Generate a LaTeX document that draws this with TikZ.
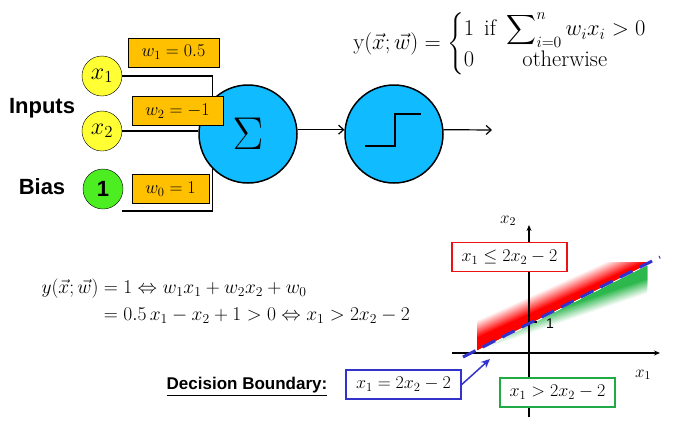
\RequirePackage{fix-cm}
\documentclass[tikz,border=0pt]{standalone}
\usepackage{amsmath}
\usepackage{fontspec}
\newfontfamily\arialfont{Liberation Sans}
\usetikzlibrary{arrows.meta}
\definecolor{inyellow}{HTML}{FFFF33}
\definecolor{biasgreen}{HTML}{4CEE22}
\definecolor{unitblue}{HTML}{11BBFF}
\definecolor{wtorange}{HTML}{FFC000}
\definecolor{lineblue}{HTML}{3333CC}
\definecolor{boxred}{HTML}{EE1111}
\definecolor{boxgreen}{HTML}{22AA44}
\definecolor{fadegreen}{HTML}{2DB84D}
\begin{document}
\begin{tikzpicture}[x=1pt,y=1pt,
  inputnode/.style={draw, circle, fill=inyellow, minimum size=40pt, inner sep=0pt, font=\fontsize{24}{28}\selectfont},
  weight/.style={draw, fill=wtorange, inner sep=0pt, minimum height=29pt, font=\fontsize{18}{21}\selectfont},
  unit/.style={draw, line width=1.5pt, circle, fill=unitblue, minimum size=98pt, inner sep=0pt},
  sidetext/.style={font=\arialfont\bfseries\fontsize{22}{26}\selectfont},
  region/.style={draw, line width=1.5pt, fill=white, inner sep=0pt, minimum width=115pt, minimum height=29pt, font=\fontsize{18}{21}\selectfont},
  wire/.style={draw, line width=1.2pt}]
\useasboundingbox (0,0) rectangle (674,-424);

% perceptron
\node[inputnode] (x1) at (102,-76) {$x_1$};
\node[inputnode] (x2) at (102,-131) {$x_2$};
\node[inputnode, fill=biasgreen, font=\arialfont\bfseries\fontsize{22}{26}\selectfont] (b) at (103,-189) {1};
\node[sidetext] (inputs) at (42,-108) {Inputs};
\node[sidetext] (bias) at (42,-187) {Bias};
\node[unit] (sum) at (248,-134) {\fontsize{46}{50}\selectfont$\Sigma$};
\node[unit] (step) at (394,-134) {};
\coordinate (bstart) at (122,-211);
\coordinate (out) at (492,-130);

\path[wire] (x1.east) -| (sum.north west);
\path[wire] (x2.east) -- (x2.east -| sum.west);
\path[wire] (bstart) -| (sum.south west);
\path[wire,-{Straight Barb[length=5pt,width=9pt]}] (sum.5) -- (step.175);
\path[wire,-{Straight Barb[length=5pt,width=9pt]}] (step.5) -- (out);
\draw[line width=2.5pt] ([shift={(-29,-12)}]step.center) -- ++(30,0) -- ++(0,32) -- ++(26,0);

\node[weight, minimum width=91pt] (w1) at (173.5,-52.5) {$w_1 = 0.5$};
\node[weight, minimum width=91pt] (w2) at (177.5,-111) {$w_2 = -1$};
\node[weight, minimum width=77pt] (w0) at (170.5,-189) {$w_0 = 1$};

\node[font=\fontsize{22.5}{27}\selectfont] (act) at (500,-44)
  {$\mathrm{y}(\vec{x};\vec{w}) = \left\{\begin{array}{@{}lc@{}}1 & \text{if } \displaystyle\sum\nolimits_{i=0}^{n} w_i x_i > 0\\[4pt] 0 & \text{otherwise}\end{array}\right.$};

% decision boundary
\node[anchor=west, font=\fontsize{19.5}{24}\selectfont] (eq) at (38,-302)
  {$\begin{aligned} y(\vec{x};\vec{w}) &= 1 \Leftrightarrow w_1x_1 + w_2x_2 + w_0\\
  &= 0.5\,x_1 - x_2 + 1 > 0 \Leftrightarrow x_1 > 2x_2 - 2\end{aligned}$};
\node[font=\arialfont\bfseries\fontsize{17}{20}\selectfont] (db) at (247,-387) {\underline{Decision Boundary:}};
\node[region, draw=lineblue] (bound) at (403.5,-384.5) {$x_1 = 2x_2 - 2$};

\begin{scope}
\clip (477,-350) -- (477,-320) -- (605,-262) -- (647,-262) -- (647,-264) -- cycle;
\begin{scope}[shift={(477,-320)}, rotate=24.4]
\foreach \d in {0,...,16} {
  \pgfmathtruncatemacro\p{100*\d/16}
  \fill[red!\p!white] (-20,-\d) rectangle (250,-90);
}
\end{scope}
\end{scope}
\begin{scope}
\clip (477,-352) -- (647,-266) -- (647,-294) -- cycle;
\begin{scope}[shift={(477,-352)}, rotate=18.8]
\foreach \d in {0,...,14} {
  \pgfmathtruncatemacro\p{100*\d/14}
  \fill[fadegreen!\p!white] (-20,\d) rectangle (250,90);
}
\end{scope}
\end{scope}

\coordinate (ybot) at (529,-417);
\coordinate (ytop) at (529,-225);
\coordinate (xleft) at (452,-353);
\coordinate (xright) at (660,-353);
\coordinate (tick) at (529,-322);
\coordinate (bstartl) at (463,-357);
\coordinate (bendr) at (660,-257);
\coordinate (tip) at (490,-359);
\path[wire,-{Stealth[length=6pt,width=5pt]}] (ybot) -- (ytop);
\path[wire,-{Stealth[length=6pt,width=5pt]}] (xleft) -- (xright);
\path[wire] (tick) -- ++(8,0);
\node[font=\fontsize{17}{20}\selectfont] (x2lab) at (508,-221) {$x_2$};
\node[font=\fontsize{17}{20}\selectfont] (x1lab) at (643,-375) {$x_1$};
\node[font=\arialfont\fontsize{14}{16}\selectfont] (one) at (550,-324) {1};
\draw[lineblue, line width=3pt, dash pattern=on 14pt off 8pt] (bstartl) -- (bendr);
\node[region, draw=boxred] (le) at (509.5,-257) {$x_1 \leq 2x_2 - 2$};
\node[region, draw=boxgreen] (gt) at (557.5,-392.5) {$x_1 > 2x_2 - 2$};
\path[draw=lineblue, line width=1.5pt, -{Stealth[length=9pt,width=8pt]}] (bound.east) -- (tip);
\end{tikzpicture}
\end{document}
